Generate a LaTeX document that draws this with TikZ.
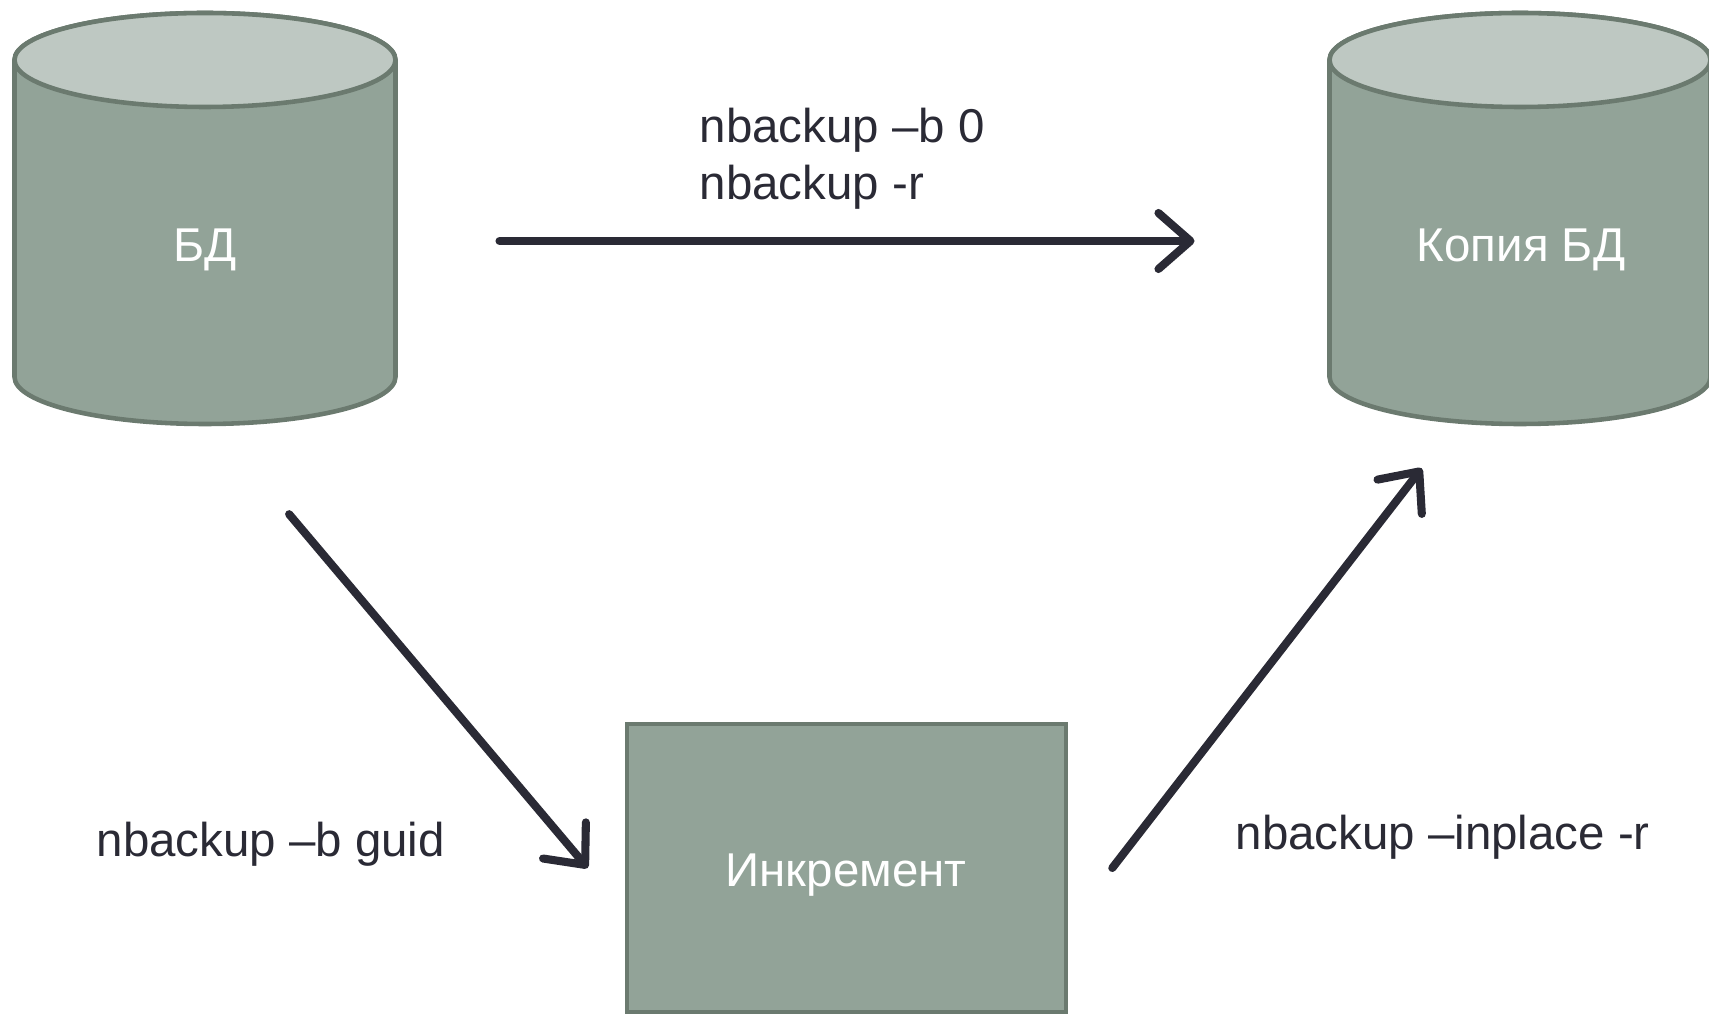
\documentclass[tikz,border=0pt]{standalone}
\usepackage{fontspec}
\setmainfont{Liberation Sans}
\usetikzlibrary{arrows.meta}

\definecolor{dbbody}{RGB}{146,163,152}
\definecolor{dbtop}{RGB}{190,200,194}
\definecolor{dbline}{RGB}{107,122,111}
\definecolor{arrowc}{RGB}{42,42,53}

% cylinder round a named node
\newcommand\drawstore[1]{%
  \draw[draw=dbline, fill=dbbody, line width=1.3pt]
    ([yshift=-0.47cm]#1.north west) -- ([yshift=0.47cm]#1.south west)
    arc[start angle=180, end angle=360, x radius=1.905cm, y radius=0.47cm]
    -- ([yshift=-0.47cm]#1.north east)
    arc[start angle=0, end angle=180, x radius=1.905cm, y radius=0.47cm] -- cycle;
  \draw[draw=dbline, fill=dbtop, line width=1.3pt]
    ([yshift=-0.47cm]#1.north) ellipse[x radius=1.905cm, y radius=0.47cm];
}

\begin{document}
\begin{tikzpicture}[
  every node/.style={font=\fontsize{13.5}{16.2}\selectfont},
  store/.style={rectangle, minimum width=3.81cm, minimum height=4.11cm, inner sep=0pt, outer sep=0pt},
  box/.style={rectangle, draw=dbline, fill=dbbody, line width=1.3pt,
    minimum width=4.39cm, minimum height=2.88cm},
  inner/.style={text=white},
  lbl/.style={text=arrowc, anchor=west, align=left, inner sep=0pt},
  flow/.style={draw=arrowc, line width=2.3pt, line cap=round,
    -{Straight Barb[length=0.32cm, width=0.56cm, line cap=round, line join=round]}}]
\useasboundingbox (0,0) rectangle (17.09,-10.14);

\node[store] (db) at (2.05,-2.185) {};
\node[store] (copy) at (15.20,-2.185) {};
\drawstore{db}
\drawstore{copy}
\node[box] (inc) at (8.465,-8.68) {};

\node[inner] (dbtxt) at (2.05,-2.50) {БД};
\node[inner] (copytxt) at (15.21,-2.50) {Копия БД};
\node[inner] (inctxt) at (8.46,-8.75) {Инкремент};

\node[lbl] (full) at (6.99,-1.585) {nbackup –b 0\\nbackup -r};
\node[lbl] (incr) at (0.96,-8.44) {nbackup –b guid};
\node[lbl] (merge) at (12.35,-8.37) {nbackup –inplace -r};

\draw[flow, shorten <=1.04cm, shorten >=1.35cm] ([yshift=-0.225cm]db.east) -- ([yshift=-0.225cm]copy.west);
\draw[flow, shorten <=1.18cm] ([xshift=0.08cm]db.south) -- ([xshift=-0.37cm]inc.west);
\draw[flow, shorten >=0.56cm] ([xshift=0.44cm]inc.east) -- ([xshift=-0.64cm]copy.south);
\end{tikzpicture}
\end{document}
